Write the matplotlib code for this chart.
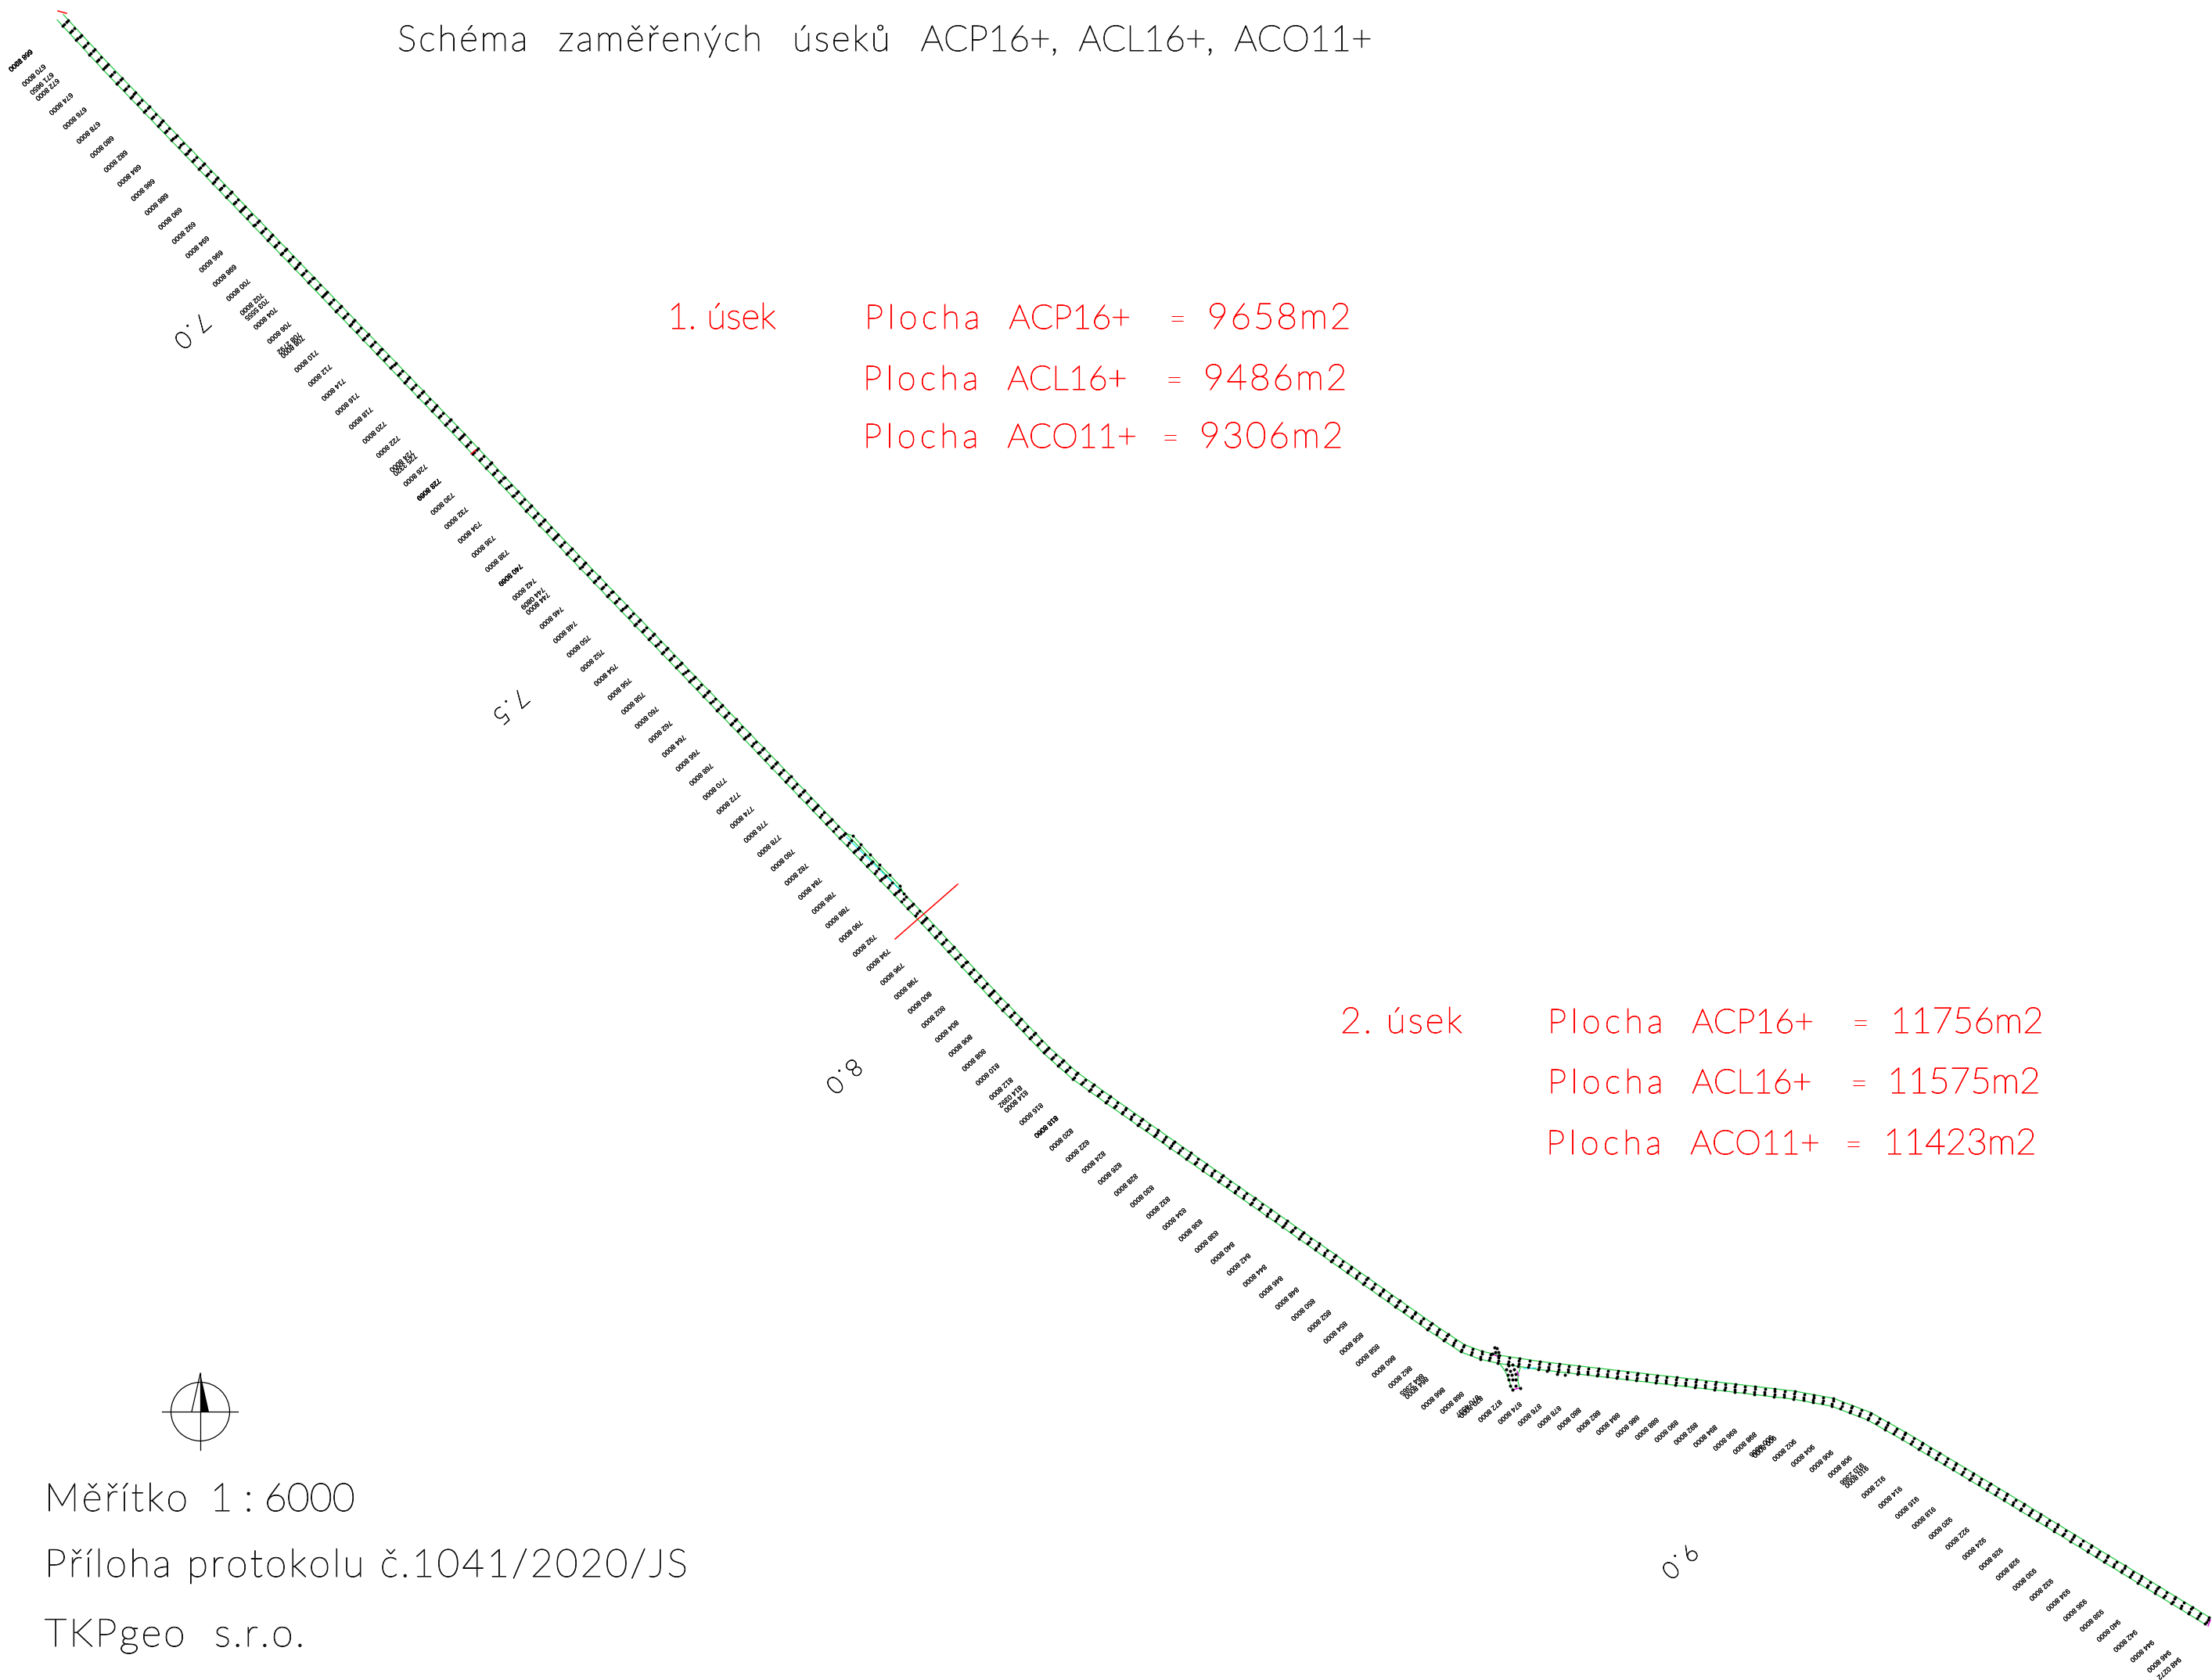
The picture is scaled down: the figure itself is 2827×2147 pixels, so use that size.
import matplotlib
matplotlib.use("Agg")
from matplotlib import pyplot as plt
from matplotlib import patheffects
import numpy as np

# chainage labels printed along the route (regular ones every 2 m + the odd survey points)
stations = [
    668.8, 670.8, 672.8, 674.8, 676.8, 678.8, 680.8, 682.8, 684.8, 686.8,
    688.8, 690.8, 692.8, 694.8, 696.8, 698.8, 700.8, 702.8, 704.8, 706.8,
    708.8, 710.8, 712.8, 714.8, 716.8, 718.8, 720.8, 722.8, 724.8, 726.8,
    728.8, 730.8, 732.8, 734.8, 736.8, 738.8, 740.8, 742.8, 744.8, 746.8,
    748.8, 750.8, 752.8, 754.8, 756.8, 758.8, 760.8, 762.8, 764.8, 766.8,
    768.8, 770.8, 772.8, 774.8, 776.8, 778.8, 780.8, 782.8, 784.8, 786.8,
    788.8, 790.8, 792.8, 794.8, 796.8, 798.8, 800.8, 802.8, 804.8, 806.8,
    808.8, 810.8, 812.8, 814.8, 816.8, 818.8, 820.8, 822.8, 824.8, 826.8,
    828.8, 830.8, 832.8, 834.8, 836.8, 838.8, 840.8, 842.8, 844.8, 846.8,
    848.8, 850.8, 852.8, 854.8, 856.8, 858.8, 860.8, 862.8, 864.8, 866.8,
    868.8, 870.8, 872.8, 874.8, 876.8, 878.8, 880.8, 882.8, 884.8, 886.8,
    888.8, 890.8, 892.8, 894.8, 896.8, 898.8, 900.8, 902.8, 904.8, 906.8,
    908.8, 910.8, 912.8, 914.8, 916.8, 918.8, 920.8, 922.8, 924.8, 926.8,
    928.8, 930.8, 932.8, 934.8, 936.8, 938.8, 940.8, 942.8, 944.8, 946.8,
]
extra_stations = [668.72, 671.965, 703.5555, 708.2792, 725.332, 728.8069, 740.8069,
                  744.0809, 814.0392, 818.806, 864.2365, 870.4537, 900.4666,
                  910.2366, 948.0272]

# route centre line (station -> pixel)
road_km = [668.0, 674.8, 726.8, 740.8, 778.8, 794.8, 804.8, 812.8, 816.8, 820.8,
           838.8, 848.8, 860.8, 864.8, 866.8, 868.8, 872.8, 890.8, 898.8, 902.8,
           906.8, 910.8, 922.8, 946.9]
road_x = [77, 135, 590, 710, 1042, 1181, 1267, 1337, 1374, 1416,
          1601, 1704, 1827, 1869, 1893, 1915, 1967, 2192, 2293, 2342,
          2389, 2433, 2563, 2822]
road_y = [22, 85, 558, 686, 1032, 1176, 1269, 1342, 1375, 1405,
          1535, 1608, 1695, 1723, 1732, 1737, 1745, 1771, 1783, 1792,
          1810, 1835, 1913, 2072]

# where the chainage labels sit
label_km = [668.8, 670.8, 690.8, 734.8, 790.8, 800.8, 812.8, 820.8, 836.8, 860.8,
            866.8, 872.8, 880.8, 894.8, 902.8, 908.8, 926.8, 946.8, 948.0]
label_x = [26, 43, 217, 600, 1087, 1175, 1279, 1356, 1521, 1768,
           1831, 1904, 2005, 2179, 2280, 2351, 2544, 2759, 2772]
label_y = [77, 96, 279, 680, 1190, 1281, 1391, 1456, 1572, 1746,
           1787, 1803, 1813, 1835, 1853, 1874, 1992, 2123, 2132]

# kilometre posts
km_posts = ["7.0", "7.5", "8.0", "9.0"]
km_x = [245, 652, 1078, 2146]
km_y = [422, 902, 1374, 1994]

# side road at the junction and other details
side_left_x = [1917, 1924, 1928, 1933]
side_left_y = [1743, 1753, 1763, 1776]
side_right_x = [1943, 1940, 1940, 1942]
side_right_y = [1748, 1757, 1765, 1774]
junction_x = [1928, 1933, 1925, 1930, 1935, 1927, 1932, 1937, 1928, 1933, 1937, 1930, 1937, 1933,
              1943, 1910, 1913, 1907, 1915, 1911, 1915, 1977, 1990, 2000, 2017]
junction_y = [1745, 1744, 1750, 1752, 1750, 1757, 1757, 1756, 1763, 1763, 1763, 1771, 1771, 1776,
              1774, 1722, 1723, 1730, 1733, 1728, 1728, 1752, 1756, 1757, 1755]
bump_x = [1080, 1090, 1100, 1112, 1124, 1137, 1150, 1155]
bump_y = [1065, 1068, 1079, 1092, 1105, 1118, 1132, 1142]
cyan_x = [[1082, 1150], [1947, 1963]]
cyan_y = [[1070, 1137], [1749, 1748]]
magenta_x = [[1933, 1942], [1939, 1941], [2822, 2825], [1908, 1913]]
magenta_y = [[1776, 1774], [1753, 1758], [2078, 2070], [1731, 1733]]
red_x = [[1144, 1224], [74, 85], [602, 608]]
red_y = [[1200, 1130], [14, 17], [580, 575]]

title_words = ["Schéma", "zaměřených", "úseků"]
title_codes = "ACP16+,  ACL16+,  ACO11+"
section_names = ["1. úsek", "2. úsek"]
section_x = [853, 1713]
section_y = [420, 1320]
mix_names = ["ACP16+", "ACL16+", "ACO11+"]
mix_x = [[1105, 1103, 1103], [1978, 1978, 1976]]
eq_x = [[1493, 1489, 1484], [2366, 2364, 2357]]
area_x = [[1543, 1538, 1533], [2416, 2412, 2407]]
area_y = [[420, 498, 572], [1320, 1397, 1475]]
areas = [["9658m2", "9486m2", "9306m2"], ["11756m2", "11575m2", "11423m2"]]
footer = ["Měřítko", "Příloha protokolu č.1041/2020/JS", "TKPgeo  s.r.o."]
footer_y = [1931, 2015, 2104]

W, H = 2827, 2147
thin = ["Lato", "DejaVu Sans"]


def track(s, n=1):
    # the CAD font is wide and airy, so space the letters out with hair spaces
    return ("\u200a" * n).join(s)


def cad_text(x, y, s, color, size, **kw):
    # light face plus a small stroke gives about the pen width of the plot
    t = ax.text(x, y, s, family=thin, weight="light", fontsize=size, color=color, **kw)
    t.set_path_effects([patheffects.withStroke(linewidth=0.75, foreground=color)])
    return t


def road_at(s):
    return np.interp(s, road_km, road_x), np.interp(s, road_km, road_y)


def normal_at(s):
    x0, y0 = road_at(np.asarray(s) - 1)
    x1, y1 = road_at(np.asarray(s) + 1)
    dx, dy = x1 - x0, y1 - y0
    n = np.hypot(dx, dy)
    return -dy / n, dx / n


def row_points(s, offsets):
    x, y = road_at(s)
    nx, ny = normal_at(s)
    return [x + o * nx for o in offsets], [y + o * ny for o in offsets]


fig = plt.figure(figsize=(W / 100, H / 100), dpi=100)
ax = fig.add_axes([0, 0, 1, 1])
ax.set_xlim(0, W)
ax.set_ylim(H, 0)
ax.axis("off")

# road edges
edge_km = np.array(road_km)
edge_km = np.sort(np.concatenate([edge_km, np.array(stations)]))
for side in (-5.2, 5.2):
    nx, ny = normal_at(edge_km)
    ex, ey = road_at(edge_km)
    ax.plot(ex + side * nx, ey + side * ny, color="#22c940", lw=0.9, zorder=2)

ax.plot(side_left_x, side_left_y, color="#22c940", lw=0.9, zorder=2)
ax.plot(side_right_x, side_right_y, color="#22c940", lw=0.9, zorder=2)
ax.plot(bump_x, bump_y, color="#22c940", lw=0.9, zorder=2)
ax.plot(bump_x, bump_y, "o", color="black", ms=1.8, zorder=4)

for xs, ys in zip(cyan_x, cyan_y):
    ax.plot(xs, ys, color="#00e5ff", lw=0.8, zorder=2)
for xs, ys in zip(magenta_x, magenta_y):
    ax.plot(xs, ys, color="#e000e0", lw=1.0, zorder=3)
for xs, ys in zip(red_x, red_y):
    ax.plot(xs, ys, color="#ff0000", lw=1.1, zorder=5)

# measured points: full rows on each station and the inner ones between them
for s in stations:
    px, py = row_points(s, [-4.8, -2.0, 2.0, 4.8])
    ax.plot(px, py, "o", color="black", ms=1.8, zorder=4)
    if s + 1 < road_km[-1]:
        px, py = row_points(s + 1, [-3.6, 0.6, 3.6])
        ax.plot(px, py, "o", color="black", ms=1.8, zorder=4)
ax.plot(junction_x, junction_y, "o", color="black", ms=1.9, zorder=4)

# chainage labels
for s in stations + extra_stations:
    lx = np.interp(s, label_km, label_x)
    ly = np.interp(s, label_km, label_y)
    t = ax.text(lx, ly, f"{s:.4f}".replace(".", " "), family="Liberation Sans", fontsize=6.5,
                rotation=222, rotation_mode="anchor", ha="center", va="center", color="black")
    t.set_path_effects([patheffects.withStroke(linewidth=0.12, foreground="black")])

for name, x, y in zip(km_posts, km_x, km_y):
    cad_text(x, y, track(name, 2), "#111111", 22, rotation=222, rotation_mode="anchor",
             ha="center", va="center")

# texts
title = "   ".join(track(w) for w in title_words) + "   " + title_codes
cad_text(508, 65, title, "#111111", 33, va="baseline", ha="left")

for i in range(2):
    name = section_names[i] if i == 0 else track(section_names[i])
    cad_text(section_x[i], section_y[i], name, "#ff0000", 33, va="baseline", ha="left")
    for j in range(3):
        y = area_y[i][j]
        cad_text(mix_x[i][j], y, track("Plocha", 2) + "   " + mix_names[j], "#ff0000", 31,
                 va="baseline", ha="left")
        cad_text(eq_x[i][j], y, "=", "#ff0000", 28, va="baseline", ha="left")
        area = areas[i][j] if i == 1 else track(areas[i][j])
        cad_text(area_x[i][j], y, area, "#ff0000", 33, va="baseline", ha="left")

cad_text(57, footer_y[0], track(footer[0]) + "  1 : 6000", "#111111", 36, va="baseline", ha="left")
for line, y in zip(footer[1:], footer_y[1:]):
    cad_text(57, y, track(line), "#111111", 35.7, va="baseline", ha="left")

# north arrow
nc_x, nc_y, nc_r = 256, 1804, 37.5
ax.add_patch(plt.Circle((nc_x, nc_y), nc_r, fill=False, ec="black", lw=0.9))
ax.plot([207, 304], [nc_y, nc_y], color="black", lw=0.9)
ax.plot([nc_x, nc_x], [1755, 1853], color="black", lw=0.9)
ax.plot([nc_x, 245], [1755, nc_y], color="black", lw=0.9)
ax.fill([nc_x, 267, nc_x], [1755, nc_y, nc_y], color="black", lw=0)

fig.savefig("out.png", dpi=100, facecolor="white")
